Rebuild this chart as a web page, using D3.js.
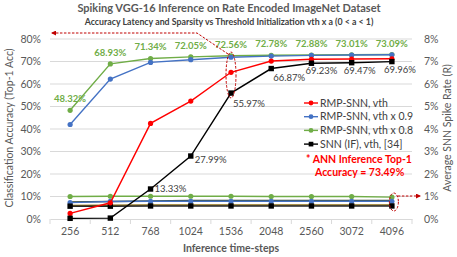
<!DOCTYPE html>
<html>
<head>
<meta charset="utf-8">
<script src="https://cdn.jsdelivr.net/npm/d3@7"></script>
<style>
  body { margin: 0; background: #fff; }
  svg { font-family: Lato, "Open Sans", sans-serif; }
</style>
</head>
<body>
<div id="chart"></div>
<script>
var steps = ["256", "512", "768", "1024", "1536", "2048", "2560", "3072", "4096"];

// accuracy (%), left axis
var accVth   = [2.5, 7.2, 42.5, 52.4, 65.2, 70.2, 71.0, 71.1, 71.2];
var accVth09 = [42.0, 62.2, 69.6, 70.8, 71.9, 72.4, 72.7, 72.9, 73.0];
var accVth08 = [48.32, 68.93, 71.34, 72.05, 72.56, 72.78, 72.88, 73.01, 73.09];
var accSnn   = [0.3, 0.4, 13.33, 27.99, 55.97, 66.87, 69.23, 69.47, 69.96];

// spike rate (%), right axis
var rateVth08 = [1.0, 1.01, 1.01, 1.01, 1.01, 1.0, 1.0, 1.0, 0.97];
var rateVth09 = [0.73, 0.78, 0.79, 0.79, 0.79, 0.79, 0.79, 0.79, 0.79];
var rateDark  = [0.76, 0.78, 0.8, 0.82, 0.83, 0.83, 0.83, 0.83, 0.83];
var rateVth   = [0.6, 0.61, 0.62, 0.62, 0.62, 0.62, 0.62, 0.62, 0.62];
var rateSnn   = [0.57, 0.57, 0.58, 0.58, 0.58, 0.58, 0.58, 0.58, 0.58];

var leftTicks = [0, 10, 20, 30, 40, 50, 60, 70, 80];
var rightTicks = [0, 1, 2, 3, 4, 5, 6, 7, 8];

var width = 457, height = 257;
var plot = {left: 50, right: 412, top: 39, bottom: 219};

var svg = d3.select("#chart").append("svg")
    .attr("width", width)
    .attr("height", height);

var x = d3.scaleBand().domain(steps).range([plot.left, plot.right]);
var y = d3.scaleLinear().domain([0, 80]).range([plot.bottom, plot.top]);
var y2 = d3.scaleLinear().domain([0, 8]).range([plot.bottom, plot.top]);
var cx = function(i) { return x(steps[i]) + x.bandwidth() / 2; };

// titles
svg.append("text")
    .attr("x", 229).attr("y", 12)
    .attr("text-anchor", "middle")
    .style("font-size", "11px").style("font-weight", "bold")
    .style("fill", "#595959")
    .text("Spiking VGG-16 Inference on Rate Encoded ImageNet Dataset");

svg.append("text")
    .attr("x", 229).attr("y", 24.5)
    .attr("text-anchor", "middle")
    .style("font-size", "8.8px").style("font-weight", "bold")
    .style("fill", "#404040")
    .text("Accuracy Latency and Sparsity vs Threshold Initialization vth x a (0 < a < 1)");

// grid
svg.append("g").selectAll("line")
    .data(leftTicks.slice(1))
  .enter().append("line")
    .attr("x1", plot.left).attr("x2", plot.right)
    .attr("y1", function(d) { return y(d); })
    .attr("y2", function(d) { return y(d); })
    .style("stroke", "#d9d9d9").style("stroke-width", 1);

// x axis
var xAxis = svg.append("g")
    .attr("transform", "translate(0," + plot.bottom + ")")
    .call(d3.axisBottom(x).tickSize(0).tickPadding(9));
xAxis.select(".domain").style("stroke", "#d9d9d9");
xAxis.selectAll("text")
    .style("font-size", "10.5px").style("fill", "#595959")
    .style("font-family", "Lato, sans-serif");

xAxis.selectAll(".edge")
    .data(d3.range(steps.length + 1))
  .enter().append("line")
    .attr("class", "edge")
    .attr("x1", function(d) { return plot.left + d * x.step(); })
    .attr("x2", function(d) { return plot.left + d * x.step(); })
    .attr("y1", 0).attr("y2", 5)
    .style("stroke", "#d9d9d9");

// left axis
var yAxis = svg.append("g")
    .attr("transform", "translate(" + plot.left + ",0)")
    .call(d3.axisLeft(y).tickValues(leftTicks).tickSize(0).tickPadding(9)
        .tickFormat(function(d) { return d + "%"; }));
yAxis.select(".domain").remove();
yAxis.selectAll("text")
    .style("font-size", "10.5px").style("fill", "#595959")
    .style("font-family", "Lato, sans-serif");

// right axis
var y2Axis = svg.append("g")
    .attr("transform", "translate(" + plot.right + ",0)")
    .call(d3.axisRight(y2).tickValues(rightTicks).tickSize(0).tickPadding(12)
        .tickFormat(function(d) { return d + "%"; }));
y2Axis.select(".domain").remove();
y2Axis.selectAll("text")
    .style("font-size", "10.5px").style("fill", "#595959")
    .style("font-family", "Lato, sans-serif");

// axis titles
svg.append("text")
    .attr("transform", "translate(13," + 128 + ") rotate(-90)")
    .attr("text-anchor", "middle")
    .style("font-size", "10.5px").style("fill", "#595959")
    .text("Classification Accuracy (Top-1 Acc)");

svg.append("text")
    .attr("transform", "translate(451," + 128 + ") rotate(-90)")
    .attr("text-anchor", "middle")
    .style("font-size", "10.5px").style("fill", "#595959")
    .text("Average SNN Spike Rate (R)");

svg.append("text")
    .attr("x", 231).attr("y", 252)
    .attr("text-anchor", "middle")
    .style("font-size", "10.5px").style("font-weight", "bold")
    .style("fill", "#595959")
    .text("Inference time-steps");

var line = d3.line().x(function(d, i) { return cx(i); });

function drawSeries(values, scale, color, marker, lineColor) {
    var g = svg.append("g");
    g.append("path")
        .datum(values)
        .attr("d", line.y(function(d) { return scale(d); }))
        .style("fill", "none")
        .style("stroke", lineColor || color)
        .style("stroke-width", 1.4);
    if (marker === "circle") {
        g.selectAll("circle").data(values).enter().append("circle")
            .attr("cx", function(d, i) { return cx(i); })
            .attr("cy", function(d) { return scale(d); })
            .attr("r", 2.6)
            .style("fill", color);
    } else if (marker === "square") {
        g.selectAll("rect").data(values).enter().append("rect")
            .attr("x", function(d, i) { return cx(i) - 2.7; })
            .attr("y", function(d) { return scale(d) - 2.7; })
            .attr("width", 5.4).attr("height", 5.4)
            .style("fill", color);
    }
}

// spike rate lines
drawSeries(rateVth08, y2, "#70AD47", "circle");
drawSeries(rateDark, y2, "#3b4a22", null);
drawSeries(rateVth09, y2, "#4472C4", "circle");
drawSeries(rateVth, y2, "#8c6d12", null);
drawSeries(rateSnn, y2, "#000000", "square", "#262626");

// accuracy lines
drawSeries(accVth08, y, "#70AD47", "circle");
drawSeries(accVth09, y, "#4472C4", "circle");
drawSeries(accVth, y, "#FF0000", "circle");
drawSeries(accSnn, y, "#000000", "square");

// data labels
svg.append("g").selectAll("text")
    .data(accVth08)
  .enter().append("text")
    .attr("x", function(d, i) { return cx(i); })
    .attr("y", function(d) { return y(d) - 8; })
    .attr("text-anchor", "middle")
    .style("font-size", "9.5px").style("font-weight", "bold")
    .style("fill", "#70AD47")
    .text(function(d) { return d.toFixed(2) + "%"; });

var snnLabelOffsets = [null, null, [4, 3], [4, 7], [2, 14], [2, 12], [-6, 11], [-8, 11], [-8, 11]];
svg.append("g").selectAll("text")
    .data(accSnn)
  .enter().filter(function(d, i) { return snnLabelOffsets[i]; }).append("text")
    .attr("x", function(d) { var i = accSnn.indexOf(d); return cx(i) + snnLabelOffsets[i][0]; })
    .attr("y", function(d) { var i = accSnn.indexOf(d); return y(d) + snnLabelOffsets[i][1]; })
    .style("font-size", "9.5px")
    .style("fill", "#404040")
    .text(function(d) { return d.toFixed(2) + "%"; });

// legend
var legendItems = [
    {label: "RMP-SNN, vth", color: "#FF0000", marker: "circle"},
    {label: "RMP-SNN, vth x 0.9", color: "#4472C4", marker: "circle"},
    {label: "RMP-SNN, vth x 0.8", color: "#70AD47", marker: "circle"},
    {label: "SNN (IF), vth, [34]", color: "#000000", marker: "square"}
];
var legend = svg.append("g").attr("transform", "translate(304,103)");
var li = legend.selectAll("g").data(legendItems).enter().append("g")
    .attr("transform", function(d, i) { return "translate(0," + i * 13.7 + ")"; });
li.append("line").attr("x1", 0).attr("x2", 14).attr("y1", 0).attr("y2", 0)
    .style("stroke", function(d) { return d.color; }).style("stroke-width", 1.4);
li.append("path")
    .attr("transform", "translate(7,0)")
    .attr("d", function(d) {
        return d3.symbol().type(d.marker === "square" ? d3.symbolSquare : d3.symbolCircle)
            .size(d.marker === "square" ? 22 : 18)();
    })
    .style("fill", function(d) { return d.color; });
li.append("text").attr("x", 16).attr("y", 3.6)
    .style("font-size", "10.5px").style("fill", "#404040")
    .text(function(d) { return d.label; });

// ANN note
svg.append("text").attr("x", 306).attr("y", 163)
    .style("font-size", "10.5px").style("font-weight", "bold").style("fill", "#FF0000")
    .text("* ANN Inference Top-1");
svg.append("text").attr("x", 315).attr("y", 176)
    .style("font-size", "10.5px").style("font-weight", "bold").style("fill", "#FF0000")
    .text("Accuracy = 73.49%");

// dashed annotations
var defs = svg.append("defs");
defs.append("marker").attr("id", "arr")
    .attr("viewBox", "0 0 10 10").attr("refX", 8).attr("refY", 5)
    .attr("markerWidth", 5).attr("markerHeight", 5).attr("orient", "auto")
  .append("path").attr("d", "M0,0L10,5L0,10Z").style("fill", "#C00000");

var ann = svg.append("g").style("fill", "none").style("stroke", "#C00000")
    .style("stroke-dasharray", "2.5,1.5").style("stroke-width", 1);
ann.append("ellipse").attr("cx", cx(4)).attr("cy", 75).attr("rx", 5).attr("ry", 23);
ann.append("path").attr("d", "M" + (cx(4) - 3) + ",54L197,33L52,33")
    .attr("marker-end", "url(#arr)");
ann.append("ellipse").attr("cx", cx(8) + 2).attr("cy", 202).attr("rx", 4.5).attr("ry", 9);
ann.append("path").attr("d", "M" + (cx(8) + 6) + ",196L420,196")
    .attr("marker-end", "url(#arr)");
</script>
</body>
</html>
